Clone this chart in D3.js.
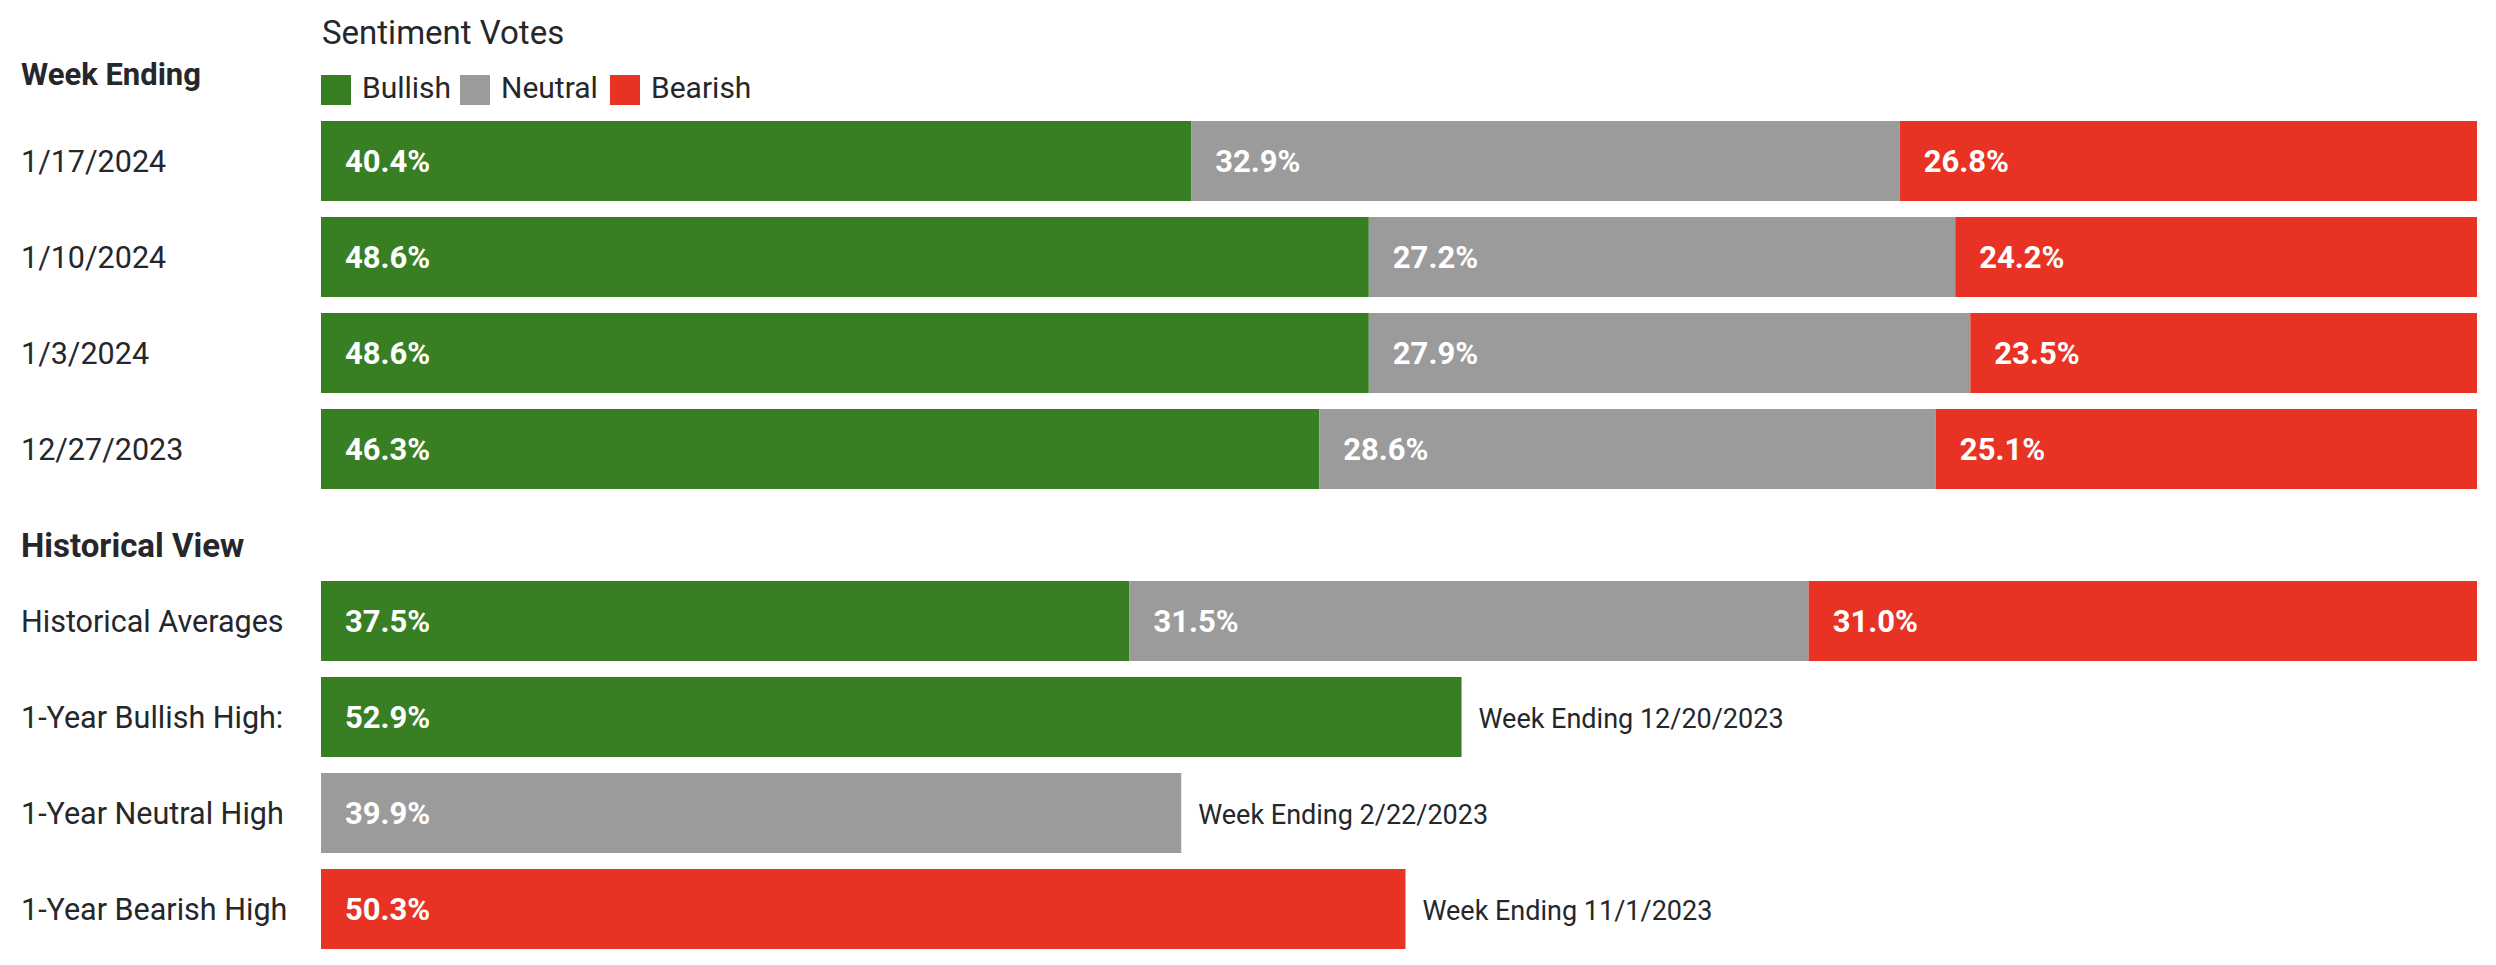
<!DOCTYPE html>
<html>
<head>
<meta charset="utf-8">
<script src="https://cdn.jsdelivr.net/npm/d3@7"></script>
<style>
    body { margin: 0; background: #fff; }
    svg text { font-family: Roboto, "Noto Sans", sans-serif; fill: #25272b; }
</style>
</head>
<body>
<div id="chart"></div>
<script>
// weekly sentiment votes (percent)
var weeks = ["1/17/2024", "1/10/2024", "1/3/2024", "12/27/2023"];
var bullish = [40.4, 48.6, 48.6, 46.3];
var neutral = [32.9, 27.2, 27.9, 28.6];
var bearish = [26.8, 24.2, 23.5, 25.1];

// historical view
var histLabel = "Historical Averages";
var histAvg = [37.5, 31.5, 31.0];
var highLabels = ["1-Year Bullish High:", "1-Year Neutral High", "1-Year Bearish High"];
var highValues = [52.9, 39.9, 50.3];
var highWeeks = ["12/20/2023", "2/22/2023", "11/1/2023"];

var seriesNames = ["Bullish", "Neutral", "Bearish"];
var seriesColors = ["#387e23", "#9b9b9b", "#e83324"];

var width = 2496, height = 965;
var barLeft = 321, barRight = 2477;

var svg = d3.select("#chart")
    .append("svg:svg")
    .attr("width", width)
    .attr("height", height);

var x = d3.scaleLinear().domain([0, 100]).range([barLeft, barRight]);
var xFrac = d3.scaleLinear().domain([0, 1]).range([barLeft, barRight]);
var color = d3.scaleOrdinal().domain(seriesNames).range(seriesColors);

// rows: 80px bars every 96px
var yWeek = d3.scaleBand().domain(weeks).range([121, 489]).paddingInner(1 / 6).paddingOuter(0);
var histRows = [histLabel].concat(highLabels);
var yHist = d3.scaleBand().domain(histRows).range([581, 949]).paddingInner(1 / 6).paddingOuter(0);

function fmt(v) { return d3.format(".1f")(v) + "%"; }

/**stacked rows, normalised so every row fills the full width*/
function drawStacked(rows, yScale) {
    var stack = d3.stack().keys(seriesNames).offset(d3.stackOffsetExpand);
    var layers = stack(rows);

    var g = svg.append("g");
    var layer = g.selectAll("g.layer")
        .data(layers)
        .enter().append("g")
        .attr("class", "layer")
        .attr("fill", function (d) { return color(d.key); });

    layer.selectAll("rect")
        .data(function (d) { return d; })
        .enter().append("rect")
        .attr("x", function (d) { return xFrac(d[0]); })
        .attr("y", function (d) { return yScale(d.data.label); })
        .attr("width", function (d) { return xFrac(d[1]) - xFrac(d[0]); })
        .attr("height", yScale.bandwidth());

    layer.each(function (L) {
        d3.select(this).selectAll("text")
            .data(L)
            .enter().append("text")
            .attr("x", function (d) { return xFrac(d[0]) + 24; })
            .attr("y", function (d) { return yScale(d.data.label) + yScale.bandwidth() / 2 + 11; })
            .attr("font-size", 31)
            .attr("font-weight", 700)
            .style("fill", "#fff")
            .text(function (d) { return fmt(d.data[L.key]); });
    });
}

function rowLabels(labels, yScale) {
    svg.append("g").selectAll("text")
        .data(labels)
        .enter().append("text")
        .attr("x", 21)
        .attr("y", function (d) { return yScale(d) + yScale.bandwidth() / 2 + 11; })
        .attr("font-size", 30.5)
        .text(function (d) { return d; });
}

// headers
svg.append("text").attr("x", 322).attr("y", 44).attr("font-size", 33).text("Sentiment Votes");
svg.append("text").attr("x", 21).attr("y", 85).attr("font-size", 31).attr("font-weight", 700).text("Week Ending");
svg.append("text").attr("x", 21).attr("y", 557).attr("font-size", 33).attr("font-weight", 700).text("Historical View");

// legend
var legendX = [321, 460, 610];
var legend = svg.append("g").selectAll("g")
    .data(seriesNames)
    .enter().append("g")
    .attr("transform", function (d, i) { return "translate(" + legendX[i] + ",75)"; });
legend.append("rect")
    .attr("width", 30)
    .attr("height", 30)
    .attr("fill", function (d) { return color(d); });
legend.append("text")
    .attr("x", 41)
    .attr("y", 23)
    .attr("font-size", 30)
    .text(function (d) { return d; });

// weekly rows
var weekRows = weeks.map(function (w, i) {
    return { label: w, Bullish: bullish[i], Neutral: neutral[i], Bearish: bearish[i] };
});
rowLabels(weeks, yWeek);
drawStacked(weekRows, yWeek);

// historical averages + 1-year highs
rowLabels(histRows, yHist);
drawStacked([{ label: histLabel, Bullish: histAvg[0], Neutral: histAvg[1], Bearish: histAvg[2] }], yHist);

var highs = svg.append("g").selectAll("g")
    .data(highLabels)
    .enter().append("g");
highs.append("rect")
    .attr("x", x(0))
    .attr("y", function (d) { return yHist(d); })
    .attr("width", function (d, i) { return x(highValues[i]) - x(0); })
    .attr("height", yHist.bandwidth())
    .attr("fill", function (d, i) { return seriesColors[i]; });
highs.append("text")
    .attr("x", x(0) + 24)
    .attr("y", function (d) { return yHist(d) + yHist.bandwidth() / 2 + 11; })
    .attr("font-size", 31)
    .attr("font-weight", 700)
    .style("fill", "#fff")
    .text(function (d, i) { return fmt(highValues[i]); });
highs.append("text")
    .attr("x", function (d, i) { return x(highValues[i]) + 17; })
    .attr("y", function (d) { return yHist(d) + yHist.bandwidth() / 2 + 11; })
    .attr("font-size", 27)
    .text(function (d, i) { return "Week Ending " + highWeeks[i]; });
</script>
</body>
</html>
